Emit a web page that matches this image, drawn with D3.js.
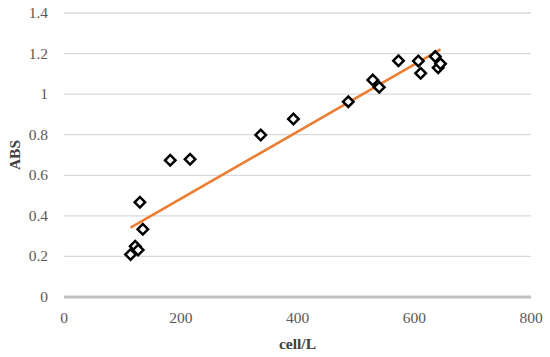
<!DOCTYPE html>
<html>
<head>
<meta charset="utf-8">
<script src="https://cdn.jsdelivr.net/npm/d3@7"></script>
<style>
  body { margin: 0; background: #fff; }
  svg { font-family: "Liberation Serif", "Times New Roman", serif; }
</style>
</head>
<body>
<div id="chart"></div>
<script>
// measured points (cell/L vs ABS)
const cells = [114, 122, 127, 135, 130, 182, 216, 337, 393, 487, 529, 540, 573, 607, 611, 636, 641, 645];
const abs   = [0.21, 0.25, 0.232, 0.334, 0.467, 0.674, 0.679, 0.799, 0.877, 0.963, 1.07, 1.034, 1.165, 1.163, 1.103, 1.185, 1.13, 1.15];
const xTicks = [0, 200, 400, 600, 800];
const yTicks = [0, 0.2, 0.4, 0.6, 0.8, 1, 1.2, 1.4];
// linear trendline as drawn in the chart
const trendSlope = 0.001655;
const trendIntercept = 0.153;

const width = 550, height = 357;
const margin = { left: 64, right: 19, top: 13, bottom: 60 };

const svg = d3.select("#chart").append("svg")
    .attr("width", width)
    .attr("height", height)

const x = d3.scaleLinear().domain([0, 800]).range([margin.left, width - margin.right])
const y = d3.scaleLinear().domain([0, 1.4]).range([height - margin.bottom, margin.top])

// gridlines
svg.append("g").selectAll("line")
    .data(yTicks.filter(d => d > 0))
    .join("line")
    .attr("x1", x(0)).attr("x2", x(800))
    .attr("y1", d => y(d)).attr("y2", d => y(d))
    .attr("stroke", "#d9d9d9").attr("stroke-width", 1.3)

// baseline
svg.append("line")
    .attr("x1", x(0)).attr("x2", x(800))
    .attr("y1", y(0)).attr("y2", y(0))
    .attr("stroke", "#bfbfbf").attr("stroke-width", 3)

// tick labels
svg.append("g").selectAll("text")
    .data(yTicks)
    .join("text")
    .attr("x", 48)
    .attr("y", d => y(d) + 5)
    .attr("text-anchor", "end")
    .attr("font-size", 15.5)
    .attr("fill", "#595959")
    .text(d => d3.format("~g")(d))

svg.append("g").selectAll("text")
    .data(xTicks)
    .join("text")
    .attr("x", d => x(d))
    .attr("y", y(0) + 26)
    .attr("text-anchor", "middle")
    .attr("font-size", 15.5)
    .attr("fill", "#595959")
    .text(d => d)

// axis titles
svg.append("text")
    .attr("x", x(400))
    .attr("y", 349)
    .attr("text-anchor", "middle")
    .attr("font-size", 15.5)
    .attr("font-weight", "bold")
    .attr("fill", "#404040")
    .text("cell/L")

svg.append("text")
    .attr("transform", `translate(20,${y(0.7)}) rotate(-90)`)
    .attr("text-anchor", "middle")
    .attr("font-size", 15.5)
    .attr("font-weight", "bold")
    .attr("fill", "#404040")
    .text("ABS")

// trendline over the data range
const ext = d3.extent(cells)
svg.append("line")
    .attr("x1", x(ext[0])).attr("y1", y(trendIntercept + trendSlope * ext[0]))
    .attr("x2", x(ext[1])).attr("y2", y(trendIntercept + trendSlope * ext[1]))
    .attr("stroke", "#ed7d31").attr("stroke-width", 2.5)

// diamond markers
const diamond = d3.symbol().type(d3.symbolSquare).size(55)
svg.append("g").selectAll("path")
    .data(cells)
    .join("path")
    .attr("d", diamond)
    .attr("transform", (d, i) => `translate(${x(d)},${y(abs[i])}) rotate(45)`)
    .attr("fill", "#fff")
    .attr("stroke", "#000")
    .attr("stroke-width", 2.5)
</script>
</body>
</html>
